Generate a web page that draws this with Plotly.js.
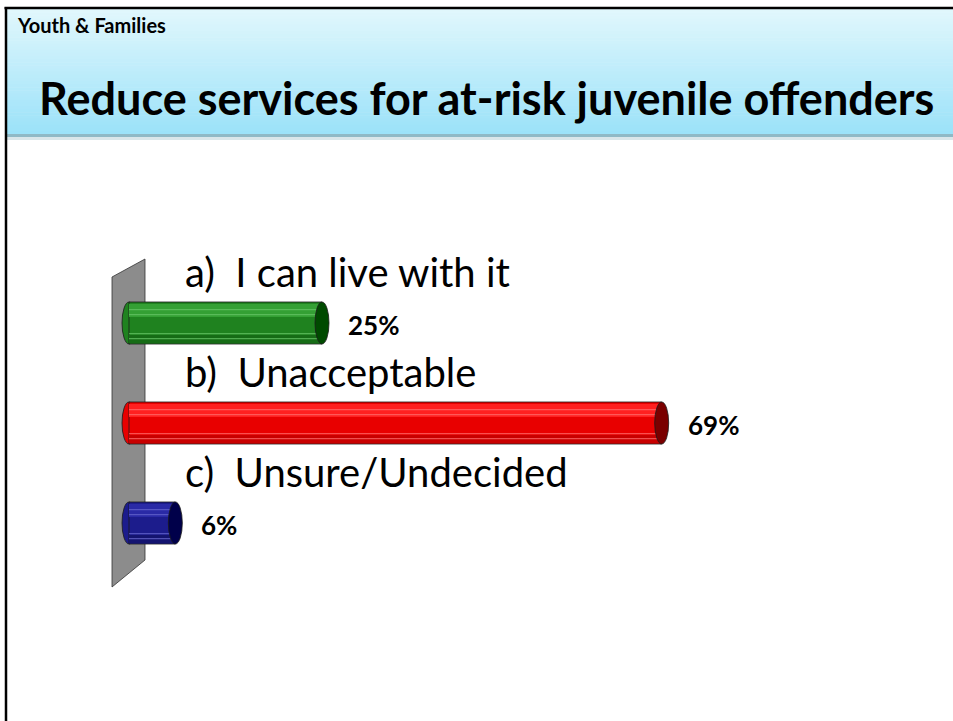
<!DOCTYPE html>
<html>
<head>
<meta charset="utf-8">
<script src="https://cdn.plot.ly/plotly-3.0.1.min.js"></script>
<style>
  html, body { margin: 0; padding: 0; background: #ffffff; }
  #chart { width: 953px; height: 721px; }
</style>
</head>
<body>
<div id="chart"></div>
<script>
// ---- data ----
const categories = ["a)  I can live with it", "b)  Unacceptable", "c)  Unsure/Undecided"];
const values = [25, 69, 6];
const slideTitle = "Reduce services for at-risk juvenile offenders";
const sectionLabel = "Youth & Families";

// ---- styles ----
const bodyColors = ["#1f821f", "#e80000", "#1c1c8c"];
const topColors = ["#34a034", "#ff2020", "#2a2aa6"];
const lowColors = ["#166c16", "#c80000", "#141470"];
const stripeColors = ["#6ac66a", "#ff7070", "#6a6ad0"];
const capColors = ["#004a00", "#7a0000", "#00004a"];

const W = 953, H = 721;
const PX_PER_UNIT = 7.72;   // horizontal pixels per percent
const X0PX = 129;           // pixel of 0%
const xRange = [-X0PX / PX_PER_UNIT, (W - X0PX) / PX_PER_UNIT];
// y: category index i centred at 323 + 100*i px
const Y0PX = 323, YSTEP = 100;
const yRange = [(H - Y0PX) / YSTEP, -Y0PX / YSTEP];

const pos = categories.map((c, i) => i);
const BW = 0.42;
const capHalf = 7 / PX_PER_UNIT;

const px = v => v / W;
const py = v => 1 - v / H;

const traces = [];
// main body
traces.push({
  type: "bar", orientation: "h", y: pos, x: values, base: 0, width: BW,
  marker: { color: bodyColors, line: { color: "#1a1a1a", width: 0.8 } },
  hoverinfo: "skip", showlegend: false
});
// upper highlight band
traces.push({
  type: "bar", orientation: "h", y: pos, x: values, base: 0, width: 0.13, offset: -0.19,
  marker: { color: topColors, line: { width: 0 } }, hoverinfo: "skip", showlegend: false
});
// lower shade band
traces.push({
  type: "bar", orientation: "h", y: pos, x: values, base: 0, width: 0.08, offset: 0.12,
  marker: { color: lowColors, line: { width: 0 } }, hoverinfo: "skip", showlegend: false
});
// thin stripes
[-0.14, -0.09, 0.10, 0.15].forEach(off => {
  traces.push({
    type: "bar", orientation: "h", y: pos, x: values, base: 0, width: 0.012, offset: off,
    marker: { color: stripeColors, opacity: 0.7, line: { width: 0 } }, hoverinfo: "skip", showlegend: false
  });
});

const shapes = [];
// header gradient band
const bandTop = 9, bandBot = 134, N = 40;
const c1 = [224, 247, 252], c2 = [156, 226, 249];
for (let k = 0; k < N; k++) {
  const t = k / (N - 1);
  const c = c1.map((a, j) => Math.round(a + (c2[j] - a) * t));
  const y0 = bandTop + (bandBot - bandTop) * k / N;
  const y1 = bandTop + (bandBot - bandTop) * (k + 1) / N + 0.5;
  shapes.push({ type: "rect", xref: "paper", yref: "paper", x0: px(6), x1: 1, y0: py(y1), y1: py(y0),
    fillcolor: `rgb(${c[0]},${c[1]},${c[2]})`, line: { width: 0 }, layer: "below" });
}
// header shadow
shapes.push({ type: "rect", xref: "paper", yref: "paper", x0: px(6), x1: 1, y0: py(137), y1: py(134),
  fillcolor: "#8fb9c6", line: { width: 0 }, layer: "below" });
shapes.push({ type: "rect", xref: "paper", yref: "paper", x0: px(6), x1: 1, y0: py(140), y1: py(137),
  fillcolor: "#d9e6ea", line: { width: 0 }, layer: "below" });
// slide border
shapes.push({ type: "line", xref: "paper", yref: "paper", x0: px(4.5), x1: 1, y0: py(8), y1: py(8),
  line: { color: "#000", width: 2.5 } });
shapes.push({ type: "line", xref: "paper", yref: "paper", x0: px(6), x1: px(6), y0: py(7), y1: 0,
  line: { color: "#000", width: 2.5 } });
// wall
shapes.push({ type: "path", xref: "paper", yref: "paper",
  path: `M ${px(112)} ${py(277)} L ${px(145)} ${py(259)} L ${px(145)} ${py(560)} L ${px(112)} ${py(587)} Z`,
  fillcolor: "#8c8c8c", line: { color: "#333", width: 0.8 }, layer: "below" });
// left caps (rounded start), behind bars
values.forEach((v, i) => {
  shapes.push({ type: "circle", xref: "x", yref: "y", x0: -capHalf, x1: capHalf,
    y0: i - BW / 2, y1: i + BW / 2, fillcolor: bodyColors[i],
    line: { color: "#1a1a1a", width: 0.8 }, layer: "below" });
});
// right caps
values.forEach((v, i) => {
  shapes.push({ type: "circle", xref: "x", yref: "y", x0: v - capHalf, x1: v + capHalf,
    y0: i - BW / 2, y1: i + BW / 2, fillcolor: capColors[i],
    line: { color: "#1a1a1a", width: 0.8 }, layer: "above" });
});

const FONT = "Lato, 'Open Sans', 'DejaVu Sans', sans-serif";
const annotations = [];
annotations.push({ xref: "paper", yref: "paper", x: px(15), y: py(25), xanchor: "left", yanchor: "middle",
  text: "<b>" + sectionLabel.replace("&", "&amp;") + "</b>", showarrow: false,
  font: { family: FONT, size: 20, color: "#000" } });
annotations.push({ xref: "paper", yref: "paper", x: px(486), y: py(98), xanchor: "center", yanchor: "middle",
  text: "<b>" + slideTitle + "</b>", showarrow: false,
  font: { family: FONT, size: 45, color: "#000" } });
categories.forEach((c, i) => {
  annotations.push({ xref: "x", yref: "y", x: (183 - X0PX) / PX_PER_UNIT, y: i - 0.515,
    xanchor: "left", yanchor: "middle", text: c.replace("  ", "&nbsp; "), showarrow: false,
    font: { family: FONT, size: 40, color: "#000" } });
});
values.forEach((v, i) => {
  annotations.push({ xref: "x", yref: "y", x: v, xshift: 24, y: i + 0.02,
    xanchor: "left", yanchor: "middle", text: "<b>" + v + "%</b>", showarrow: false,
    font: { family: FONT, size: 26, color: "#000" } });
});

const layout = {
  width: W, height: H,
  margin: { l: 0, r: 0, t: 0, b: 0 },
  paper_bgcolor: "#ffffff", plot_bgcolor: "rgba(0,0,0,0)",
  barmode: "overlay",
  xaxis: { range: xRange, visible: false, fixedrange: true },
  yaxis: { range: yRange, visible: false, fixedrange: true },
  shapes: shapes, annotations: annotations, showlegend: false
};

Plotly.newPlot("chart", traces, layout, { displayModeBar: false, staticPlot: true });
</script>
</body>
</html>
